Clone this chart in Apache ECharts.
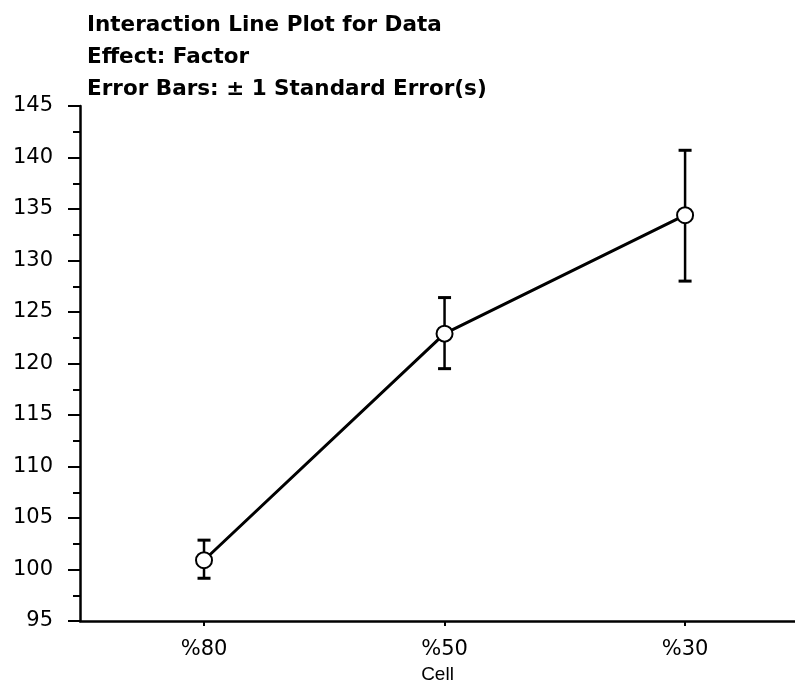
<!DOCTYPE html>
<html>
<head>
<meta charset="utf-8">
<script src="https://cdn.jsdelivr.net/npm/echarts@6/dist/echarts.min.js"></script>
<style>html,body{margin:0;padding:0;background:#fff}#c{width:795px;height:684px}</style>
</head>
<body>
<div id="c"></div>
<script>
const titleLines = ['Interaction Line Plot for Data', 'Effect: Factor', 'Error Bars: ± 1 Standard Error(s)'];
const categories = ['%80', '%50', '%30'];
const means = [100.9, 122.9, 134.4];
const lower = [99.15, 119.5, 128.0];
const upper = [102.85, 126.4, 140.7];
const yTicks = [95, 100, 105, 110, 115, 120, 125, 130, 135, 140, 145];
const xAxisName = 'Cell';

const idx = categories.map((c, i) => i);
const lineData = means.map((m, i) => [i, m]);
const errData = idx.map(i => [i, lower[i], upper[i]]);

const chart = echarts.init(document.getElementById('c'), null, {renderer: 'canvas'});
chart.setOption({
  animation: false,
  backgroundColor: '#fff',
  title: {
    text: titleLines.join('\n'),
    left: 82, top: 4,
    textStyle: {fontFamily: 'DejaVu Sans', fontWeight: 'bold', fontSize: 21.5, lineHeight: 32, color: '#000'}
  },
  grid: {left: 80, right: 0, top: 106, bottom: 63, containLabel: false, outerBoundsMode: 'none'},
  xAxis: {
    type: 'value',
    min: -0.5156, max: 2.457,
    splitLine: {show: false},
    axisLine: {show: true, onZero: false, lineStyle: {color: '#000', width: 2.5}},
    axisTick: {show: true, customValues: idx, length: 5, lineStyle: {color: '#000', width: 2}},
    axisLabel: {show: true, customValues: idx, margin: 18, formatter: v => categories[Math.round(v)],
      fontFamily: 'DejaVu Sans', fontSize: 21, color: '#000'},
    name: xAxisName, nameLocation: 'middle', nameGap: 42,
    nameTextStyle: {fontFamily: 'Liberation Sans', fontSize: 19, color: '#000'}
  },
  yAxis: {
    type: 'value',
    min: yTicks[0], max: yTicks[yTicks.length - 1], interval: 5,
    splitLine: {show: false},
    axisLine: {show: true, onZero: false, lineStyle: {color: '#000', width: 2.5}},
    axisTick: {show: true, length: 12, lineStyle: {color: '#000', width: 2}},
    minorTick: {show: true, splitNumber: 2, length: 7, lineStyle: {color: '#000', width: 2}},
    axisLabel: {margin: 27, fontFamily: 'DejaVu Sans', fontSize: 21, color: '#000'}
  },
  series: [
    {
      type: 'custom',
      z: 1,
      data: errData,
      renderItem: function (params, api) {
        const x = api.value(0);
        const lo = api.coord([x, api.value(1)]);
        const hi = api.coord([x, api.value(2)]);
        const hw = 6.5;
        const st = {stroke: '#000', lineWidth: 2.5};
        return {type: 'group', children: [
          {type: 'line', shape: {x1: lo[0], y1: lo[1], x2: hi[0], y2: hi[1]}, style: st},
          {type: 'line', shape: {x1: lo[0] - hw, y1: lo[1], x2: lo[0] + hw, y2: lo[1]}, style: {stroke: '#000', lineWidth: 3}},
          {type: 'line', shape: {x1: hi[0] - hw, y1: hi[1], x2: hi[0] + hw, y2: hi[1]}, style: {stroke: '#000', lineWidth: 3}}
        ]};
      }
    },
    {
      type: 'line',
      z: 3,
      data: lineData,
      symbol: 'circle',
      symbolSize: 16,
      lineStyle: {color: '#000', width: 3},
      itemStyle: {color: '#fff', borderColor: '#000', borderWidth: 2},
      emphasis: {disabled: true}
    }
  ]
});
</script>
</body>
</html>
